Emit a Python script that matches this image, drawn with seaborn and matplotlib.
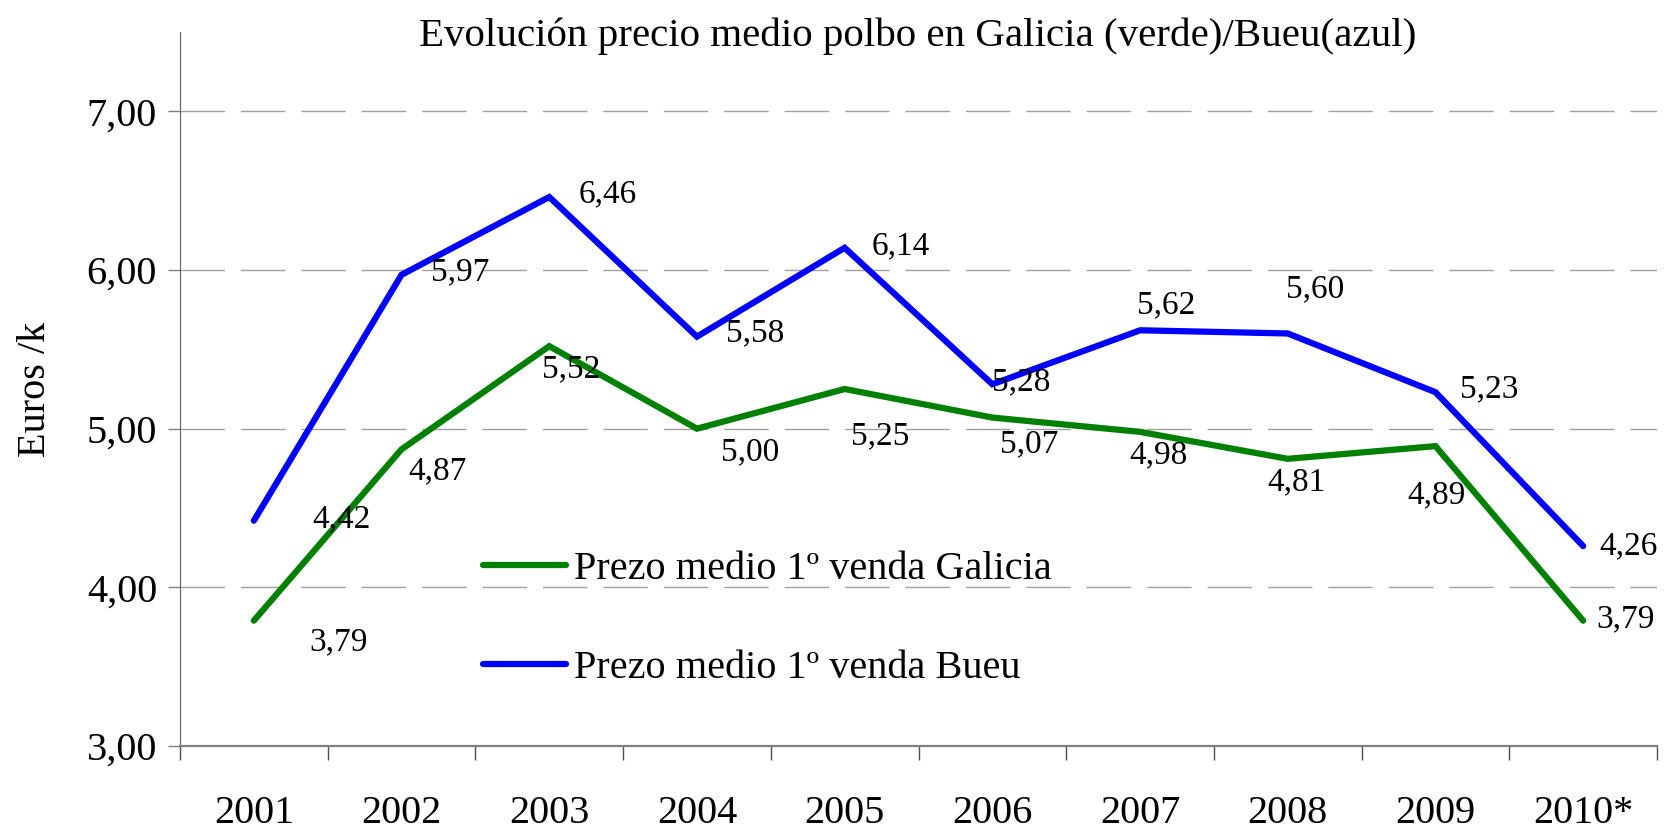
import pandas as pd
import seaborn as sns
import numpy as np
import matplotlib.pyplot as plt
from matplotlib.ticker import FuncFormatter, FixedLocator

# data
years = ['2001', '2002', '2003', '2004', '2005', '2006', '2007', '2008', '2009', '2010*']
galicia = [3.79, 4.87, 5.52, 5.00, 5.25, 5.07, 4.98, 4.81, 4.89, 3.79]
bueu = [4.42, 5.97, 6.46, 5.58, 6.14, 5.28, 5.62, 5.60, 5.23, 4.26]

lab_galicia = 'Prezo medio 1º venda Galicia'
lab_bueu = 'Prezo medio 1º venda Bueu'

# label offsets (pixels) for the value labels
off_galicia = [(85, -21), (36, -22), (22, -23), (53, -23), (36, -47),
               (37, -26), (18, -23), (9, -23), (1, -49), (42, 2)]
off_bueu = [(88, 2), (59, 3), (58, 3), (58, 4), (56, 2),
            (29, 2), (26, 25), (27, 44), (54, 3), (45, 0)]

df = pd.DataFrame({
    'year': years * 2,
    'price': galicia + bueu,
    'serie': [lab_galicia] * len(years) + [lab_bueu] * len(years),
})

sns.set_style('white')
plt.rcParams['font.family'] = ['Liberation Serif', 'DejaVu Serif']
plt.rcParams['text.color'] = 'black'
plt.rcParams['axes.labelcolor'] = 'black'

fig = plt.figure(figsize=(16.74, 8.31), dpi=100)
ax = fig.add_axes([180 / 1674, 1 - 746 / 831, 1477 / 1674, 714 / 831])

sns.lineplot(data=df, x='year', y='price', hue='serie', sort=False,
             hue_order=[lab_galicia, lab_bueu],
             palette={lab_galicia: '#008000', lab_bueu: '#0000ff'},
             linewidth=4.5, ax=ax)
for ln in ax.lines:
    ln.set_solid_capstyle('round')
    ln.set_solid_joinstyle('miter')

ax.set_xlim(-0.5, len(years) - 0.5)
ax.set_ylim(3, 7.5)

# y axis
ax.set_yticks([3, 4, 5, 6, 7])
ax.yaxis.set_major_formatter(FuncFormatter(lambda v, p: f'{v:.2f}'.replace('.', ',')))
ax.tick_params(axis='y', left=True, length=8.5, width=1, color='#808080',
               labelsize=29, labelcolor='black', pad=8)
ax.grid(axis='y', color='#a0a0a0', linewidth=1.0, linestyle=(0, (32, 11.5)))
ax.grid(axis='x', visible=False)

# x axis: labels centred, ticks on the category boundaries
ax.set_xticks(range(len(years)))
ax.set_xticklabels(years)
ax.tick_params(axis='x', which='major', length=0, labelsize=29,
               labelcolor='black', pad=35)
ax.xaxis.set_minor_locator(FixedLocator(np.arange(-0.5, len(years), 1.0)))
ax.tick_params(axis='x', which='minor', bottom=True, length=10, width=1, color='#505050')

for s in ['top', 'right']:
    ax.spines[s].set_visible(False)
ax.spines['left'].set_color('#606060')
ax.spines['left'].set_linewidth(0.8)
ax.spines['bottom'].set_color('#808080')
ax.spines['bottom'].set_linewidth(1.6)

ax.set_xlabel('')
ax.set_ylabel('Euros /k', fontsize=29)
ax.yaxis.set_label_coords(-0.098, 0.5)
ax.yaxis.label.set_va('center')

# value labels
for i, (v, o) in enumerate(zip(galicia, off_galicia)):
    ax.annotate(f'{v:.2f}'.replace('.', ','), (i, v), xytext=o,
                textcoords='offset pixels', ha='center', va='center', fontsize=24)
for i, (v, o) in enumerate(zip(bueu, off_bueu)):
    ax.annotate(f'{v:.2f}'.replace('.', ','), (i, v), xytext=o,
                textcoords='offset pixels', ha='center', va='center', fontsize=24)

leg = ax.legend(loc='center left', bbox_to_anchor=(483 / 1674, 1 - 619 / 831),
                bbox_transform=fig.transFigure, frameon=False, fontsize=29,
                handlelength=2.05, handletextpad=0.2, labelspacing=1.55,
                borderpad=0, borderaxespad=0)
for h in leg.get_lines():
    h.set_linewidth(4.5)
    h.set_solid_capstyle('round')

fig.text(918 / 1674, 1 - 46 / 831,
         'Evolución precio medio polbo en Galicia (verde)/Bueu(azul)',
         ha='center', va='baseline', fontsize=29.5)

fig.savefig('out.png', dpi=100)
